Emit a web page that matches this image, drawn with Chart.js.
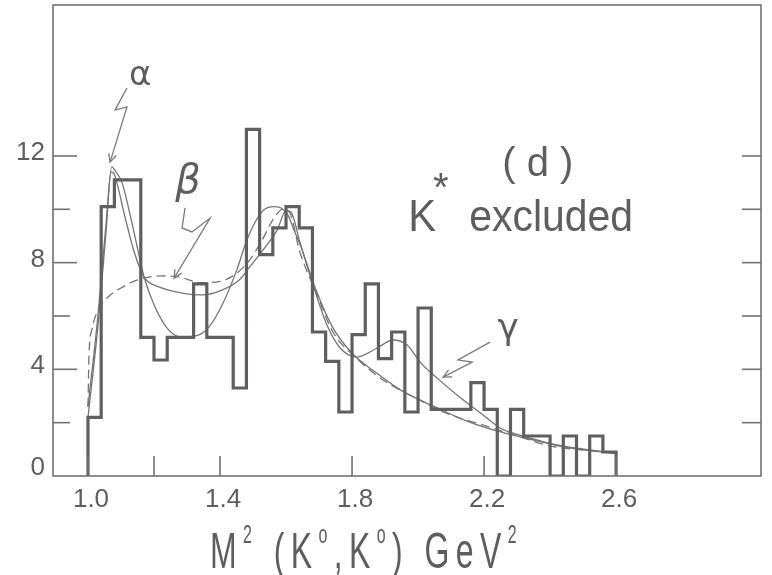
<!DOCTYPE html>
<html>
<head>
<meta charset="utf-8">
<script src="https://cdn.jsdelivr.net/npm/chart.js@4.4.1/dist/chart.umd.min.js"></script>
<style>
  html, body { margin: 0; padding: 0; background: #fff; }
  canvas { display: block; }
</style>
</head>
<body>
<canvas id="myChart" width="772" height="575"></canvas>
<script>
// histogram bins (GeV^2), 0.04 wide, left edges
const binStarts = [1.00, 1.04, 1.08, 1.12, 1.16, 1.20, 1.24, 1.28, 1.32, 1.36,
                   1.40, 1.44, 1.48, 1.52, 1.56, 1.60, 1.64, 1.68, 1.72, 1.76,
                   1.80, 1.84, 1.88, 1.92, 1.96, 2.00, 2.04, 2.08, 2.12, 2.16,
                   2.20, 2.24, 2.28, 2.32, 2.36, 2.40, 2.44, 2.48, 2.52, 2.56];
const binEnd = 2.60;
const counts = [2.2, 10.1, 11.1, 11.1, 5.2, 4.35, 5.2, 5.2, 7.2, 5.2,
                5.2, 3.3, 13.0, 8.3, 9.3, 10.1, 9.3, 5.4, 4.3, 2.4,
                5.3, 7.2, 4.4, 5.4, 2.4, 6.3, 2.5, 2.5, 2.5, 3.5,
                2.5, 0, 2.5, 1.5, 1.5, 0, 1.5, 0, 1.5, 0.9];

// fitted curves
const alphaM = [1.000, 1.030, 1.055, 1.072, 1.082, 1.103, 1.133, 1.170, 1.203, 1.245, 1.285, 1.336,
                1.367, 1.406, 1.450, 1.480, 1.510, 1.535, 1.560, 1.585, 1.605, 1.625, 1.645, 1.690,
                1.740, 1.800, 1.870, 1.950, 2.050, 2.150, 2.250, 2.350, 2.450, 2.600];
const alphaN = [2.6, 6.0, 9.5, 11.6, 11.45, 11.0, 9.5, 7.46, 6.34, 5.47, 5.21, 5.29,
                5.59, 6.4, 7.7, 8.8, 9.6, 10.0, 10.1, 10.05, 9.8, 9.2, 8.6, 7.0,
                5.6, 4.6, 3.9, 3.2, 2.6, 2.05, 1.65, 1.35, 1.1, 0.85];

const betaM = [1.000, 1.003, 1.012, 1.030, 1.060, 1.100, 1.150, 1.220, 1.280, 1.340, 1.400, 1.450,
               1.490, 1.530, 1.560, 1.590, 1.610, 1.642, 1.694, 1.742, 1.815, 1.894, 1.997, 2.097,
               2.200, 2.300, 2.410, 2.510, 2.600];
const betaN = [2.6, 4.5, 5.5, 6.2, 6.7, 7.05, 7.35, 7.5, 7.45, 7.25, 7.3, 7.6,
               8.1, 8.9, 9.6, 10.0, 9.9, 8.4, 6.8, 5.4, 4.4, 3.6, 2.9, 2.3,
               1.9, 1.5, 1.1, 0.97, 0.86];

const gammaM = [1.000, 1.030, 1.055, 1.070, 1.080, 1.112, 1.140, 1.170, 1.215, 1.285, 1.345, 1.406,
                1.458, 1.490, 1.530, 1.573, 1.600, 1.615, 1.642, 1.682, 1.724, 1.764, 1.815, 1.876,
                1.924, 1.967, 2.006, 2.058, 2.118, 2.197, 2.248, 2.290, 2.360, 2.440, 2.520, 2.600];
const gammaN = [2.2, 5.6, 9.2, 11.4, 11.3, 9.71, 8.4, 7.46, 7.09, 6.86, 6.79, 6.97,
                7.35, 7.84, 8.47, 9.22, 9.95, 9.9, 8.77, 7.16, 5.66, 4.8, 4.46, 4.8,
                5.1, 4.91, 4.27, 3.67, 3.04, 2.29, 1.8, 1.6, 1.35, 1.09, 0.95, 0.85];

// axis ticks
const xTickLabels = ['1.0', '1.4', '1.8', '2.2', '2.6'];
const xLabelValues = [1.0, 1.4, 1.8, 2.2, 2.6];
const xTickMarks = [1.0, 1.2, 1.4, 1.8, 2.2, 2.6];
const yTickLabels = ['0', '4', '8', '12'];
const yLabelValues = [0, 4, 8, 12];
const yTickMarks = [2, 4, 6, 8, 10, 12];

// histogram outline as a stepped line
const histPoints = [{ x: binStarts[0], y: 0 }];
binStarts.forEach((m, i) => histPoints.push({ x: m, y: counts[i] }));
histPoints.push({ x: binEnd, y: 0 });

const toPoints = (ms, ns) => ms.map((m, i) => ({ x: m, y: ns[i] }));

const INK = '#5e5e5e';
const FONT = '"Liberation Sans", Arial, sans-serif';

function seg(ctx, x1, y1, x2, y2) {
    ctx.beginPath();
    ctx.moveTo(x1, y1);
    ctx.lineTo(x2, y2);
    ctx.stroke();
}

// draw text runs (with superscripts), squeezed horizontally, spaced per character
function drawRuns(ctx, runs, x, y, size, sx, gap) {
    ctx.save();
    ctx.translate(x, y);
    ctx.scale(sx, 1);
    let cx = 0;
    runs.forEach(r => {
        const fs = r.sup ? size * 0.5 : size;
        ctx.font = fs + 'px ' + FONT;
        for (const ch of r.t) {
            ctx.fillText(ch, cx, r.sup ? -size * 0.5 : 0);
            cx += ctx.measureText(ch).width + gap;
        }
    });
    ctx.restore();
}

// hand-drawn arrows, path given in data units
function arrow(ctx, xs, ys, pts) {
    const p = pts.map(q => [xs.getPixelForValue(q[0]), ys.getPixelForValue(q[1])]);
    ctx.beginPath();
    ctx.moveTo(p[0][0], p[0][1]);
    for (let i = 1; i < p.length; i++) ctx.lineTo(p[i][0], p[i][1]);
    ctx.stroke();
    const [ex, ey] = p[p.length - 1];
    const [bx, by] = p[p.length - 2];
    const ang = Math.atan2(ey - by, ex - bx);
    ctx.beginPath();
    ctx.moveTo(ex - 9 * Math.cos(ang - 0.45), ey - 9 * Math.sin(ang - 0.45));
    ctx.lineTo(ex, ey);
    ctx.lineTo(ex - 9 * Math.cos(ang + 0.45), ey - 9 * Math.sin(ang + 0.45));
    ctx.stroke();
}

const paperPlugin = {
    id: 'paper',
    afterDraw(chart) {
        const { ctx, chartArea: a, scales: { x, y } } = chart;
        ctx.save();
        ctx.strokeStyle = '#727272';
        ctx.lineWidth = 1.6;
        ctx.strokeRect(a.left, a.top, a.right - a.left, a.bottom - a.top);

        // ticks point inward
        yTickMarks.forEach(v => {
            const py = y.getPixelForValue(v);
            seg(ctx, a.left, py, a.left + (yLabelValues.includes(v) ? 24 : 17), py);
            seg(ctx, a.right - 19, py, a.right, py);
        });
        xTickMarks.forEach(v => {
            const px = x.getPixelForValue(v);
            seg(ctx, px, a.bottom - 20, px, a.bottom);
        });

        ctx.fillStyle = INK;
        ctx.font = '26px ' + FONT;
        ctx.textAlign = 'right';
        ctx.textBaseline = 'middle';
        yLabelValues.forEach((v, i) => {
            ctx.fillText(yTickLabels[i], a.left - 8, y.getPixelForValue(v) - (v === 0 ? 8 : 3));
        });
        ctx.textAlign = 'center';
        xLabelValues.forEach((v, i) => {
            ctx.fillText(xTickLabels[i], x.getPixelForValue(v) + 3, a.bottom + 24);
        });

        // axis title
        ctx.textAlign = 'left';
        ctx.textBaseline = 'alphabetic';
        drawRuns(ctx, [
            { t: 'M' }, { t: '2', sup: true }, { t: ' (K' }, { t: 'o', sup: true },
            { t: ',K' }, { t: 'o', sup: true }, { t: ') GeV' }, { t: '2', sup: true }
        ], 210, 568, 50, 0.64, 10);

        // panel annotations
        drawRuns(ctx, [{ t: '( d )' }], x.getPixelForValue(2.255), y.getPixelForValue(11.25), 40, 1, 0);
        drawRuns(ctx, [{ t: 'K' }], x.getPixelForValue(1.97), y.getPixelForValue(9.2), 44, 0.95, 0);
        ctx.font = '40px ' + FONT;
        ctx.fillText('*', x.getPixelForValue(2.045), y.getPixelForValue(10.3));
        drawRuns(ctx, [{ t: 'excluded' }], x.getPixelForValue(2.155), y.getPixelForValue(9.2), 44, 0.93, 0);

        ctx.textAlign = 'center';
        ctx.textBaseline = 'middle';
        ctx.font = '34px "DejaVu Sans", sans-serif';
        ctx.fillText('α', x.getPixelForValue(1.158), y.getPixelForValue(15.0));
        ctx.font = 'italic 40px "DejaVu Sans", sans-serif';
        ctx.fillText('β', x.getPixelForValue(1.303), y.getPixelForValue(11.0));
        ctx.font = '36px "DejaVu Sans", sans-serif';
        ctx.fillText('γ', x.getPixelForValue(2.273), y.getPixelForValue(5.5));

        ctx.strokeStyle = '#7a7a7a';
        ctx.lineWidth = 1.3;
        arrow(ctx, x, y, [[1.118, 14.55], [1.082, 13.72], [1.118, 13.84], [1.067, 11.77]]);
        arrow(ctx, x, y, [[1.294, 10.05], [1.285, 9.3], [1.315, 9.15], [1.370, 9.67], [1.261, 7.42]]);
        arrow(ctx, x, y, [[2.218, 5.02], [2.121, 4.35], [2.164, 4.27], [2.076, 3.71]]);
        ctx.restore();
    }
};

const ctx = document.getElementById('myChart').getContext('2d');

const curveStyle = {
    showLine: true,
    pointRadius: 0,
    borderColor: '#747474',
    borderWidth: 1.3,
    cubicInterpolationMode: 'monotone',
    fill: false
};

const myChart = new Chart(ctx, {
    type: 'scatter',
    data: {
        datasets: [
            {
                label: 'events',
                data: histPoints,
                showLine: true,
                stepped: 'before',
                pointRadius: 0,
                borderColor: '#5f5f5f',
                borderWidth: 3.2,
                fill: false
            },
            { label: 'alpha', data: toPoints(alphaM, alphaN), ...curveStyle },
            { label: 'beta', data: toPoints(betaM, betaN), ...curveStyle, borderDash: [9, 5] },
            { label: 'gamma', data: toPoints(gammaM, gammaN), ...curveStyle }
        ]
    },
    options: {
        responsive: false,
        animation: false,
        devicePixelRatio: 1,
        layout: { padding: { left: 53, top: 5, right: 11, bottom: 99 } },
        plugins: {
            legend: { display: false },
            tooltip: { enabled: false }
        },
        scales: {
            x: { type: 'linear', min: 0.894, max: 3.039, display: false },
            y: { type: 'linear', min: 0, max: 17.66, display: false }
        }
    },
    plugins: [paperPlugin]
});
</script>
</body>
</html>
